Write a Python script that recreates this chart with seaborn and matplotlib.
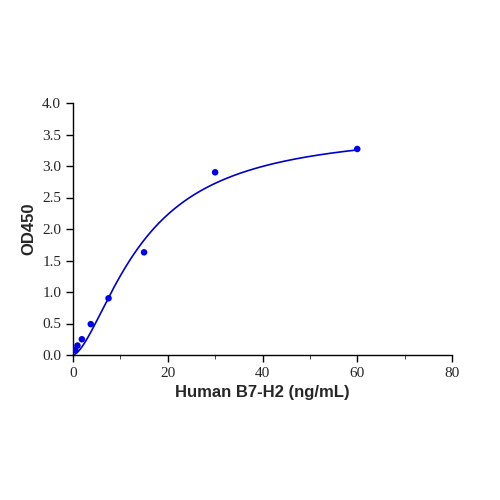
import numpy as np
import matplotlib
matplotlib.use("Agg")
import matplotlib.pyplot as plt
import seaborn as sns

conc = [0.47, 0.94, 1.875, 3.75, 7.5, 15, 30, 60]
od = [0.08, 0.15, 0.25, 0.49, 0.90, 1.63, 2.90, 3.27]

sns.set_style("ticks")
x = np.array(conc); y = np.array(od)
# 4PL fit by grid search
best = None
for ec in np.linspace(10, 25, 61):
    for h in np.linspace(1.0, 3.5, 51):
        for top in np.linspace(3.1, 3.6, 26):
            bot = 0.0
            pred = bot + (top - bot) / (1 + (ec / x) ** h)
            e = ((pred - y) ** 2).sum()
            if best is None or e < best[0]:
                best = (e, ec, h, top)
_, ec, h, top = best
xs = np.linspace(0.01, 60, 400)
ys = top / (1 + (ec / xs) ** h)

fig = plt.figure(figsize=(5, 5), dpi=100)
ax = fig.add_axes([0.146, 0.29, 0.758, 0.504])
sns.lineplot(x=xs, y=ys, ax=ax, color="#0000CC", lw=1.2)
sns.scatterplot(x=conc, y=od, ax=ax, color="#0000EE", s=22, edgecolor="none", zorder=3)
ax.set_xlim(0, 80); ax.set_ylim(0, 4.0)
ax.set_xticks([0, 20, 40, 60, 80])
ax.set_yticks(np.arange(0, 4.01, 0.5))
ax.set_yticklabels([f"{v:.1f}" for v in np.arange(0, 4.01, 0.5)])
ax.xaxis.set_minor_locator(matplotlib.ticker.MultipleLocator(10))
for lab in ax.get_xticklabels() + ax.get_yticklabels():
    lab.set_fontfamily("Liberation Serif"); lab.set_fontsize(11)
ax.set_xlabel("Human B7-H2 (ng/mL)", fontfamily="Liberation Sans", fontweight="bold", fontsize=12)
ax.set_ylabel("OD450", fontfamily="Liberation Sans", fontweight="bold", fontsize=12)
ax.tick_params(direction="out", length=5, width=1, color="black")
ax.tick_params(which="minor", length=3)
for s in ["left", "bottom"]:
    ax.spines[s].set_color("black"); ax.spines[s].set_linewidth(1)
sns.despine(ax=ax)
fig.savefig("out.png", dpi=100)
